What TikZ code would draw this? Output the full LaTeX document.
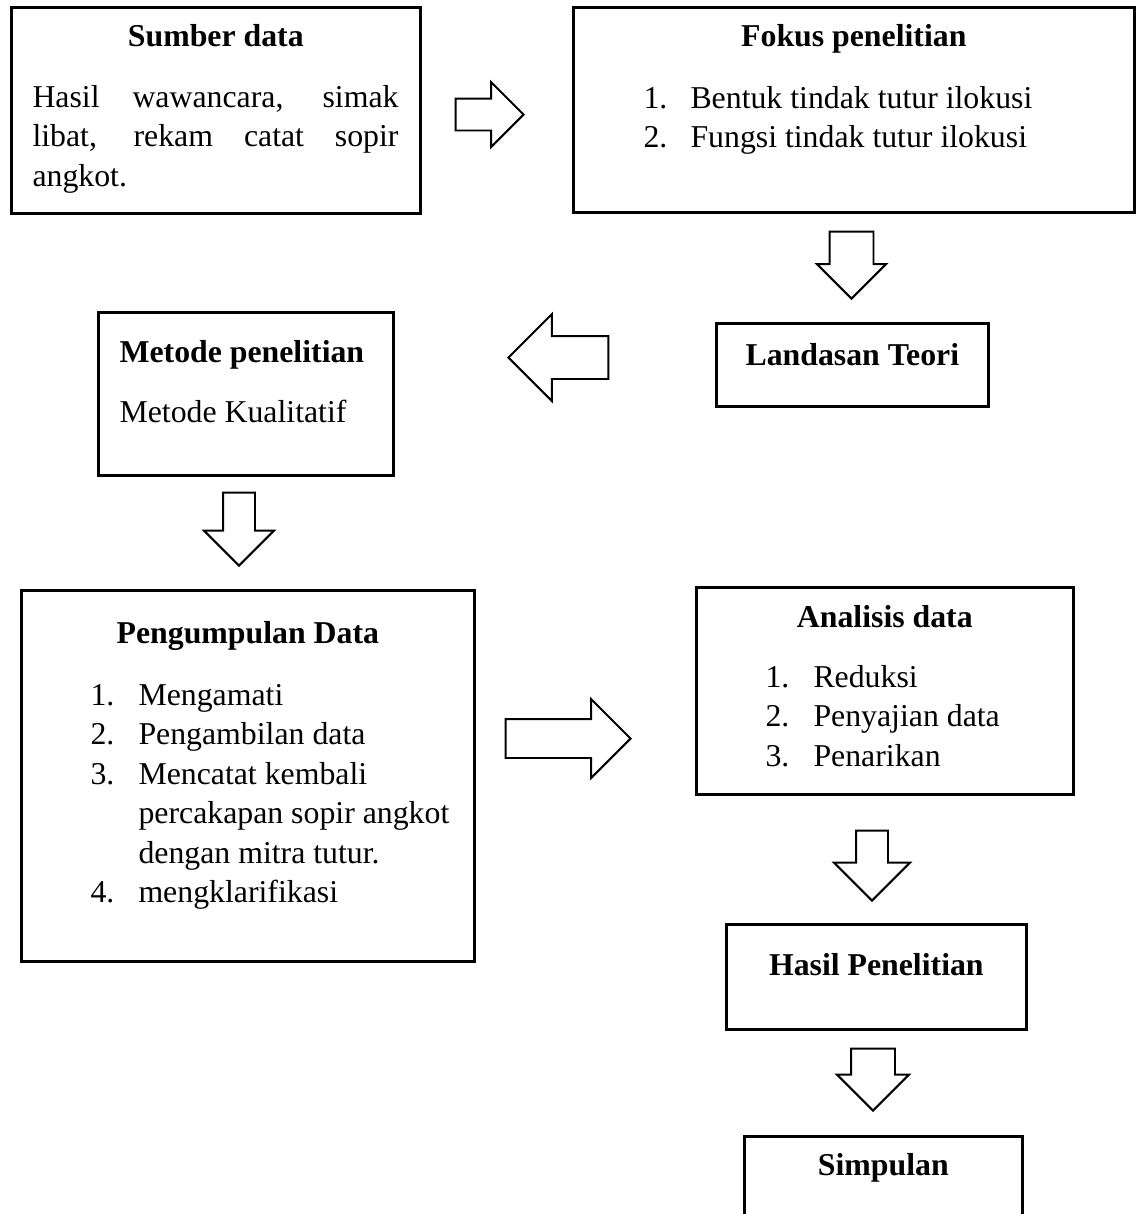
\documentclass[tikz,border=0pt]{standalone}
\usepackage{fontspec}
\setmainfont{Liberation Serif}
\usetikzlibrary{shapes.arrows}

\newlength{\px}
\setlength{\px}{0.3774pt}

\tikzset{
  box/.style={draw, line width=1pt, anchor=north west, inner sep=0pt},
  txt/.style={font=\fontsize{12}{14.94}\selectfont, inner sep=0pt},
  head/.style={inner sep=0pt, anchor=base, font=\fontsize{12}{14.94}\selectfont\bfseries},
  blockarrow/.style={draw, single arrow, line width=0.75pt, inner xsep=0pt, anchor=tip}
}

\begin{document}
\begin{tikzpicture}[x=0.3774pt, y=-0.3774pt]
\path[use as bounding box, fill=white] (0,0) rectangle (1136,1214);
\clip (0,0) rectangle (1136,1214);

% Boxes
\node[box, minimum width=409*\px, minimum height=206*\px] (sumber) at (10,6) {};
\node[box, minimum width=561*\px, minimum height=205*\px] (fokus) at (572,6) {};
\node[box, minimum width=272*\px, minimum height=83*\px] (landasan) at (715,322) {};
\node[box, minimum width=295*\px, minimum height=163*\px] (metode) at (97,311) {};
\node[box, minimum width=453*\px, minimum height=371*\px] (kumpul) at (20,589) {};
\node[box, minimum width=377*\px, minimum height=207*\px] (analisis) at (695,586) {};
\node[box, minimum width=300*\px, minimum height=105*\px] (hasil) at (725,923) {};
\node[box, minimum width=278*\px, minimum height=150*\px] (simpulan) at (743,1135) {};

% Texts
\node[head] (sumberT) at (sumber.north |- 0,46) {Sumber data};
\node[txt, anchor=base west] (sumberB) at (32,107) {\begin{tabular}[t]{@{}l@{}}
    \makebox[366\px][s]{Hasil wawancara, simak}\\
    \makebox[366\px][s]{libat, rekam catat sopir}\\
    angkot.
  \end{tabular}};

\node[head] (fokusT) at (fokus.north |- 0,46) {Fokus penelitian};
\node[txt, anchor=base west] (fokusL) at (643,108) {\begin{tabular}[t]{@{}p{47\px}@{}l@{}}
    1. & Bentuk tindak tutur ilokusi\\
    2. & Fungsi tindak tutur ilokusi
  \end{tabular}};

\node[head] (landasanT) at (landasan.north |- 0,365) {Landasan Teori};

\node[head, anchor=base west] (metodeT) at (119,362) {Metode penelitian};
\node[txt, anchor=base west] (metodeB) at (119,422) {Metode Kualitatif};

\node[head] (kumpulT) at (kumpul.north |- 0,643) {Pengumpulan Data};
\node[txt, anchor=base west] (kumpulL) at (90,705) {\begin{tabular}[t]{@{}p{48\px}@{}l@{}}
    1. & Mengamati\\
    2. & Pengambilan data\\
    3. & Mencatat kembali\\
       & percakapan sopir angkot\\
       & dengan mitra tutur.\\
    4. & mengklarifikasi
  \end{tabular}};

\node[head] (analisisT) at (analisis.north |- 0,627) {Analisis data};
\node[txt, anchor=base west] (analisisL) at (765,687) {\begin{tabular}[t]{@{}p{48\px}@{}l@{}}
    1. & Reduksi\\
    2. & Penyajian data\\
    3. & Penarikan
  \end{tabular}};

\node[head] (hasilT) at (hasil.north |- 0,975) {Hasil Penelitian};
\node[head] (simpulanT) at (simpulan.north |- 0,1175) {Simpulan};

% Block arrows
\node[blockarrow, inner ysep=15*\px, minimum height=68*\px, minimum width=63*\px, single arrow head extend=16.5*\px] (a1) at (525,114.5) {};
\node[blockarrow, rotate=-90, inner ysep=21*\px, minimum height=67*\px, minimum width=67*\px, single arrow head extend=12.5*\px] (a2) at (851.5,300) {};
\node[blockarrow, rotate=180, inner ysep=20.5*\px, minimum height=100*\px, minimum width=85*\px, single arrow head extend=22*\px] (a3) at (507,357.5) {};
\node[blockarrow, rotate=-90, inner ysep=15*\px, minimum height=73*\px, minimum width=68*\px, single arrow head extend=19*\px] (a4) at (239,567) {};
\node[blockarrow, inner ysep=18.5*\px, minimum height=125*\px, minimum width=77*\px, single arrow head extend=20*\px] (a5) at (632,738.5) {};
\node[blockarrow, rotate=-90, inner ysep=15*\px, minimum height=70*\px, minimum width=74*\px, single arrow head extend=22*\px] (a6) at (872,902) {};
\node[blockarrow, rotate=-90, inner ysep=21*\px, minimum height=62*\px, minimum width=70*\px, single arrow head extend=14*\px] (a7) at (873,1112) {};
\end{tikzpicture}
\end{document}
